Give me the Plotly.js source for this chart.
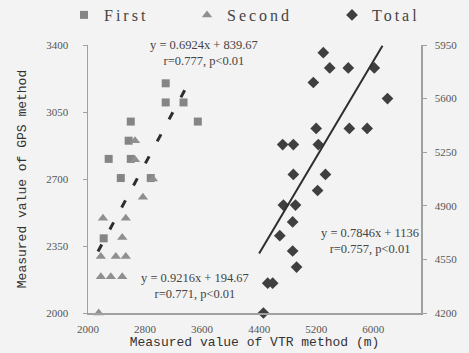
<!DOCTYPE html>
<html>
<head>
<meta charset="utf-8">
<script src="https://cdn.plot.ly/plotly-3.0.1.min.js"></script>
<style>
html,body{margin:0;padding:0;background:#f3f3f3;}
#chart{width:469px;height:353px;}
.legendtext, .legend2text, .legend3text {letter-spacing:3px;}
</style>
</head>
<body>
<div id="chart"></div>
<script>
// VTR (x) vs GPS (y) measured values
const firstX  = [3090, 3090, 3340, 2600, 3540, 2570, 2290, 2600, 2460, 2880, 2220];
const firstY  = [3200, 3100, 3100, 3000, 3000, 2900, 2805, 2805, 2705, 2705, 2390];

const secondX = [2660, 2660, 2910, 2770, 2210, 2530, 2480, 2180, 2390, 2530, 2180, 2320, 2480, 2150];
const secondY = [2900, 2800, 2700, 2605, 2495, 2495, 2395, 2295, 2295, 2295, 2190, 2190, 2190, 2000];

const totalX  = [5300, 5390, 5650, 6015, 5160, 6200, 5200, 5665, 5915, 4730, 4880, 5230, 4880, 5330, 5220, 4740, 4910, 4870, 4690, 4870, 4925, 4520, 4590, 4460];
const totalY  = [5900, 5800, 5800, 5800, 5705, 5600, 5405, 5405, 5405, 5300, 5300, 5300, 5105, 5105, 5000, 4905, 4905, 4795, 4705, 4605, 4500, 4395, 4395, 4200];

// trendline equations (from the chart) and their drawn x extents
const firstTrend = {slope: 0.6924, intercept: 839.67};
const firstTrendX = [2140, 3440];
const totalTrend = {slope: 0.7846, intercept: 1136};
const totalTrendX = [4400, 6130];

const xTicks  = [2000, 2800, 3600, 4400, 5200, 6000];
const yTicks  = [2000, 2350, 2700, 3050, 3400];
const y2Ticks = [4200, 4550, 4900, 5250, 5600, 5950];

const eqTexts = [
  'y = 0.6924x + 839.67<br>r=0.777, p<0.01',
  'y = 0.9216x + 194.67<br>r=0.771, p<0.01',
  'y = 0.7846x + 1136<br>r=0.757, p<0.01'
];

const serif = 'Liberation Serif, Times New Roman, serif';
const mono = 'Liberation Mono, DejaVu Sans Mono, monospace';

const traces = [
  {x: firstX, y: firstY, type: 'scatter', mode: 'markers', name: 'First',
   marker: {symbol: 'square', size: 8, color: '#858585'}, cliponaxis: false, legend: 'legend'},
  {x: secondX, y: secondY, type: 'scatter', mode: 'markers', name: 'Second',
   marker: {symbol: 'triangle-up', size: 9, color: '#8f8f8f'}, cliponaxis: false, legend: 'legend2'},
  {x: totalX, y: totalY, type: 'scatter', mode: 'markers', name: 'Total', yaxis: 'y2',
   marker: {symbol: 'diamond', size: 9, color: '#3f3f3f'}, cliponaxis: false, legend: 'legend3'},
  {x: firstTrendX, y: firstTrendX.map(v => firstTrend.slope * v + firstTrend.intercept),
   type: 'scatter', mode: 'lines', showlegend: false, hoverinfo: 'skip',
   line: {color: '#2e2e2e', width: 3, dash: '8px,17px'}},
  {x: totalTrendX, y: totalTrendX.map(v => totalTrend.slope * v + totalTrend.intercept),
   type: 'scatter', mode: 'lines', showlegend: false, hoverinfo: 'skip', yaxis: 'y2',
   line: {color: '#2e2e2e', width: 2}}
];

const legFont = {family: serif, size: 16, color: '#444'};
const legBase = {orientation: 'h', xanchor: 'left', yanchor: 'middle', y: 1.112,
  bgcolor: 'rgba(0,0,0,0)', font: legFont};

const eqFont = {family: serif, size: 12.5, color: '#444'};

const layout = {
  width: 469, height: 353,
  margin: {l: 88, r: 48, t: 45, b: 40, autoexpand: false},
  paper_bgcolor: '#f3f3f3', plot_bgcolor: '#f3f3f3',
  legend:  Object.assign({}, legBase, {x: (64 - 88) / 333}),
  legend2: Object.assign({}, legBase, {x: (187 - 88) / 333}),
  legend3: Object.assign({}, legBase, {x: (332 - 88) / 333}),
  xaxis: {
    range: [2000, 6670], tickvals: xTicks, ticktext: xTicks.map(String),
    showline: true, linecolor: '#a0a0a0', linewidth: 1.5, showgrid: false, zeroline: false,
    ticks: '', ticklabelstandoff: 5,
    tickfont: {family: serif, size: 11, color: '#555'},
    title: {text: 'Measured value of VTR method (m)', font: {family: mono, size: 13, color: '#333'}, standoff: 2}
  },
  yaxis: {
    range: [2000, 3400], tickvals: yTicks, ticktext: yTicks.map(String),
    showline: true, linecolor: '#a0a0a0', linewidth: 1.5, showgrid: false, zeroline: false,
    ticks: 'outside', ticklen: 4, tickcolor: '#a0a0a0', ticklabelstandoff: 12,
    tickfont: {family: serif, size: 11, color: '#555'},
    title: {text: 'Measured value of GPS method', font: {family: mono, size: 13, color: '#333'}, standoff: 16}
  },
  yaxis2: {
    overlaying: 'y', side: 'right',
    range: [4200, 5950], tickvals: y2Ticks, ticktext: y2Ticks.map(String),
    showline: true, linecolor: '#a0a0a0', linewidth: 1.5, showgrid: false, zeroline: false,
    ticks: 'outside', ticklen: 4, tickcolor: '#a0a0a0', ticklabelstandoff: 6,
    tickfont: {family: serif, size: 11, color: '#555'}
  },
  annotations: [
    {xref: 'paper', yref: 'paper', x: (204 - 88) / 333, y: (313 - 53) / 268, text: eqTexts[0],
     xanchor: 'center', yanchor: 'middle', showarrow: false, font: eqFont, align: 'center'},
    {xref: 'paper', yref: 'paper', x: (195 - 88) / 333, y: (313 - 286) / 268, text: eqTexts[1],
     xanchor: 'center', yanchor: 'middle', showarrow: false, font: eqFont, align: 'center'},
    {xref: 'paper', yref: 'paper', x: (370 - 88) / 333, y: (313 - 241) / 268, text: eqTexts[2],
     xanchor: 'center', yanchor: 'middle', showarrow: false, font: eqFont, align: 'center'}
  ],
  showlegend: true
};

Plotly.newPlot('chart', traces, layout, {displayModeBar: false, staticPlot: true});
</script>
</body>
</html>
